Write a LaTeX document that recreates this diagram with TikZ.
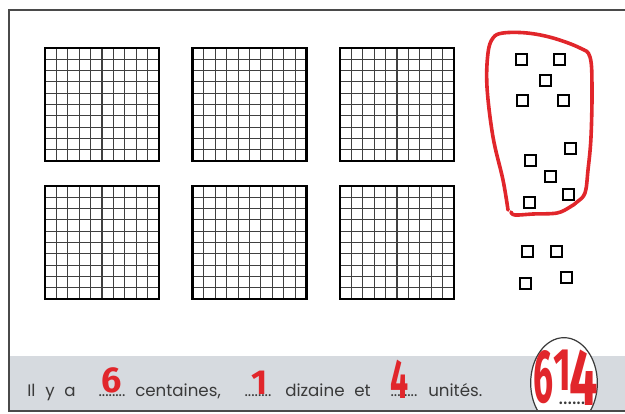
\documentclass[tikz,border=0pt]{standalone}
\usepackage{fontspec}
\setmainfont{Poppins}[WordSpace=2.2]
\newfontfamily\feutre{Fira Sans}
\usepackage{tikz}
\usetikzlibrary{positioning,shapes.geometric}
\definecolor{encre}{HTML}{3A3A3A}
\definecolor{rouge}{HTML}{E1262B}
\definecolor{bande}{HTML}{D6DADF}
\definecolor{trait}{HTML}{4A4A4A}
\tikzset{
  cadre/.style={draw=trait, line width=1.1pt},
  bord/.style={draw=black, line width=1.9pt},
  ligne/.style={draw=black!75, line width=0.8pt},
  unite/.style={draw=black, line width=1.5pt},
  boucle/.style={draw=rouge, line width=2.7pt, line cap=round, line join=round},
  rond/.style={ellipse, draw=encre, line width=0.9pt, fill=white,
               minimum width=50pt, minimum height=68pt, inner sep=0pt},
  phrase/.style={inner sep=0pt, text=encre, anchor=base west,
                 font=\fontsize{12.5}{15}\selectfont},
  pts/.style={inner sep=0pt, text=encre, anchor=base,
              font=\fontsize{12}{12}\selectfont},
  chiffre/.style={inner sep=0pt, text=rouge, anchor=base},
}

\begin{document}
\begin{tikzpicture}[x=0.75pt, y=-0.75pt]
\useasboundingbox (0,0) rectangle (625,414);

% ---- bande du bas ----
\fill[bande] (9,356) rectangle (625,411);

% ---- 6 centaines ----
\foreach \gx/\gy in {45/48, 192.5/48, 340/48, 45/186, 192.5/186, 340/186} {
  \foreach \k in {1,...,9} {
    \draw[ligne] (\gx+\k*11.4, \gy) -- ++(0,113);
    \draw[ligne] (\gx, \gy+\k*11.3) -- ++(114,0);
  }
  \draw[bord] (\gx,\gy) rectangle ++(114,113);
}

% ---- 14 unites ----
\foreach \ux/\uy in {521/59, 559/59, 545/80, 522/100, 563/100,
                     570/148, 530/160, 550/176, 568/194, 529/202,
                     527/251, 556/251, 566/277, 525/283} {
  \draw[unite] (\ux-5.5,\uy-5.5) rectangle ++(11,11);
}

% ---- la dizaine entouree ----
\draw[boucle] plot[smooth, tension=0.6] coordinates {
  (508,210) (503,180) (493,137) (487,87) (488,53) (493,38) (503,33)
  (527,33) (553,38) (580,48) (590,57) (592,87) (591,137) (588,170)
  (585,193) (577,202) (570,207) (557,213) (533,214) (515,215) (511,212)};

% ---- phrase ----
\node[phrase] (il)   at (27,396)  {Il y a};
\node[pts]    (pts1) at (112,396) {........};
\node[phrase] (cent) at (135,396) {centaines,};
\node[pts]    (pts2) at (258,396) {........};
\node[phrase] (diz)  at (285,396) {dizaine et};
\node[pts]    (pts3) at (404,396) {........};
\node[phrase] (uni)  at (428,396) {unités.};

\node[chiffre, font=\feutre\bfseries\fontsize{27}{27}\selectfont]
  (r6) at ([yshift=3pt]pts1.base) {6};
\node[chiffre, font=\feutre\bfseries\fontsize{26}{26}\selectfont]
  (r1) at ([xshift=1.5pt,yshift=1pt]pts2.base) {1};
\node[chiffre, font=\feutre\bfseries\fontsize{32}{32}\selectfont, yscale=1.3, xscale=0.75]
  (r4) at ([xshift=-3pt,yshift=-1.5pt]pts3.base) {4};

% ---- reponse ----
\begin{scope}
  \clip (0,0) rectangle (625,411);
  \node[rond] (rep) at (564,383) {};
\end{scope}
\node[pts, font=\fontsize{16}{16}\selectfont] (pts4) at (572,404) {......};
\node[chiffre, font=\feutre\bfseries\fontsize{36}{36}\selectfont, yscale=1.57, xscale=0.74]
  (c6) at (544,402) {6};
\node[chiffre, font=\feutre\bfseries\fontsize{36}{36}\selectfont, yscale=1.25, xscale=0.8]
  (c1) at (562,390) {1};
\node[chiffre, font=\feutre\bfseries\fontsize{36}{36}\selectfont, yscale=1.67, xscale=1.05]
  (c4) at (584,405) {4};

% ---- cadre ----
\draw[cadre] (625,10) -- (9,10) -- (9,411) -- (625,411);

\end{tikzpicture}
\end{document}
